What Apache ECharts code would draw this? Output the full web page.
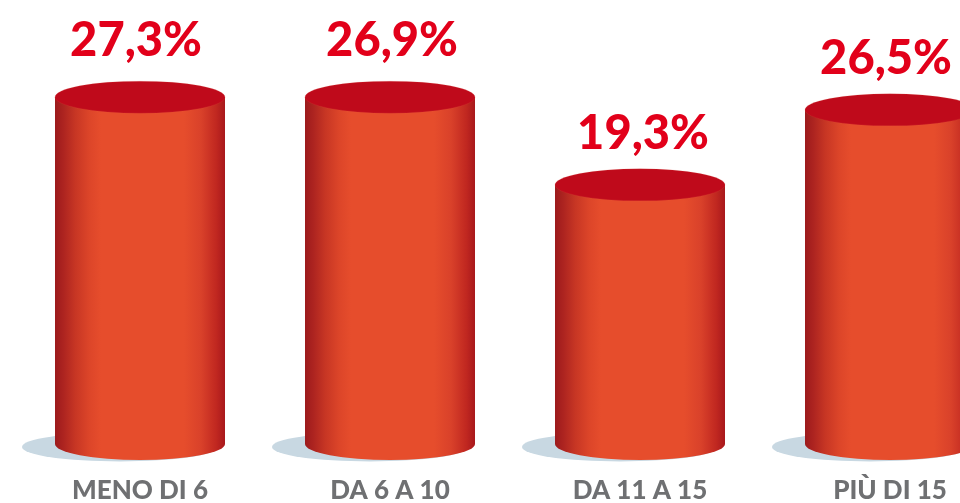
<!DOCTYPE html>
<html><head><meta charset="utf-8">
<style>html,body{margin:0;padding:0;background:#fff}#c{width:960px;height:503px}</style>
<script src="https://cdn.jsdelivr.net/npm/echarts@6/dist/echarts.min.js"></script>
</head><body><div id="c"></div>
<script>
const categories = ['MENO DI 6', 'DA 6 A 10', 'DA 11 A 15', 'PIÙ DI 15'];
// Printed percentages
const printedLabels = ['27,3%', '26,9%', '19,3%', '26,5%'];
// Cylinder heights as drawn in the picture (the source art is not strictly proportional)
const drawnLevels = [27.3, 27.3, 20.4, 26.3];
const labelGaps = [17, 17, 11, 11];
const labelShift = [-4, 2, 3, -4];

const side = {type:'linear',x:0,y:0,x2:1,y2:0,colorStops:[
  {offset:0,color:'#9c1a1c'},{offset:0.05,color:'#ad2420'},{offset:0.12,color:'#c73624'},
  {offset:0.2,color:'#dc4529'},{offset:0.27,color:'#e64d2c'},{offset:0.76,color:'#e64d2c'},
  {offset:0.86,color:'#d9412a'},{offset:0.95,color:'#c02720'},{offset:1,color:'#a8181c'}]};
const W = 170, RY = 32;
const chart = echarts.init(document.getElementById('c'), null, {renderer:'canvas'});
chart.setOption({
  animation:false,
  grid:{left:15,width:1000,top:62.7,bottom:59,outerBoundsMode:'none'},
  xAxis:{type:'category',data:categories,
    axisLine:{show:false},axisTick:{show:false},
    axisLabel:{margin:34,color:'#6f7072',fontFamily:'Lato',fontWeight:900,fontSize:26,interval:0}},
  yAxis:{type:'value',min:0,max:30,show:false},
  series:[
    {type:'pictorialBar',name:'shadow',data:drawnLevels,z:1,barWidth:W,barGap:'-100%',symbol:'circle',
      symbolPosition:'start',symbolSize:[196,29],symbolOffset:[-20,'60%'],
      itemStyle:{color:'#c8d8e2'},silent:true},
    {type:'pictorialBar',name:'base',data:drawnLevels,z:2,barWidth:W,barGap:'-100%',symbol:'circle',
      symbolPosition:'start',symbolSize:[W,RY],symbolOffset:[0,'50%'],
      itemStyle:{color:side},silent:true},
    {type:'bar',name:'body',data:drawnLevels,z:3,barWidth:W,itemStyle:{color:side},silent:true},
    {type:'pictorialBar',name:'top',z:4,barWidth:W,barGap:'-100%',symbol:'circle',
      symbolPosition:'end',symbolSize:[W,RY],symbolOffset:[0,'-50%'],
      itemStyle:{color:'#bf0a1b',borderColor:'#e8604f',borderWidth:0.6},silent:true,
      data:drawnLevels.map((v,i)=>({value:v,label:{show:true,position:'top',distance:labelGaps[i],offset:[labelShift[i],0],
        formatter:printedLabels[i],color:'#e2001a',fontFamily:'Lato',fontWeight:900,fontSize:47}}))}
  ]
});
</script></body></html>
